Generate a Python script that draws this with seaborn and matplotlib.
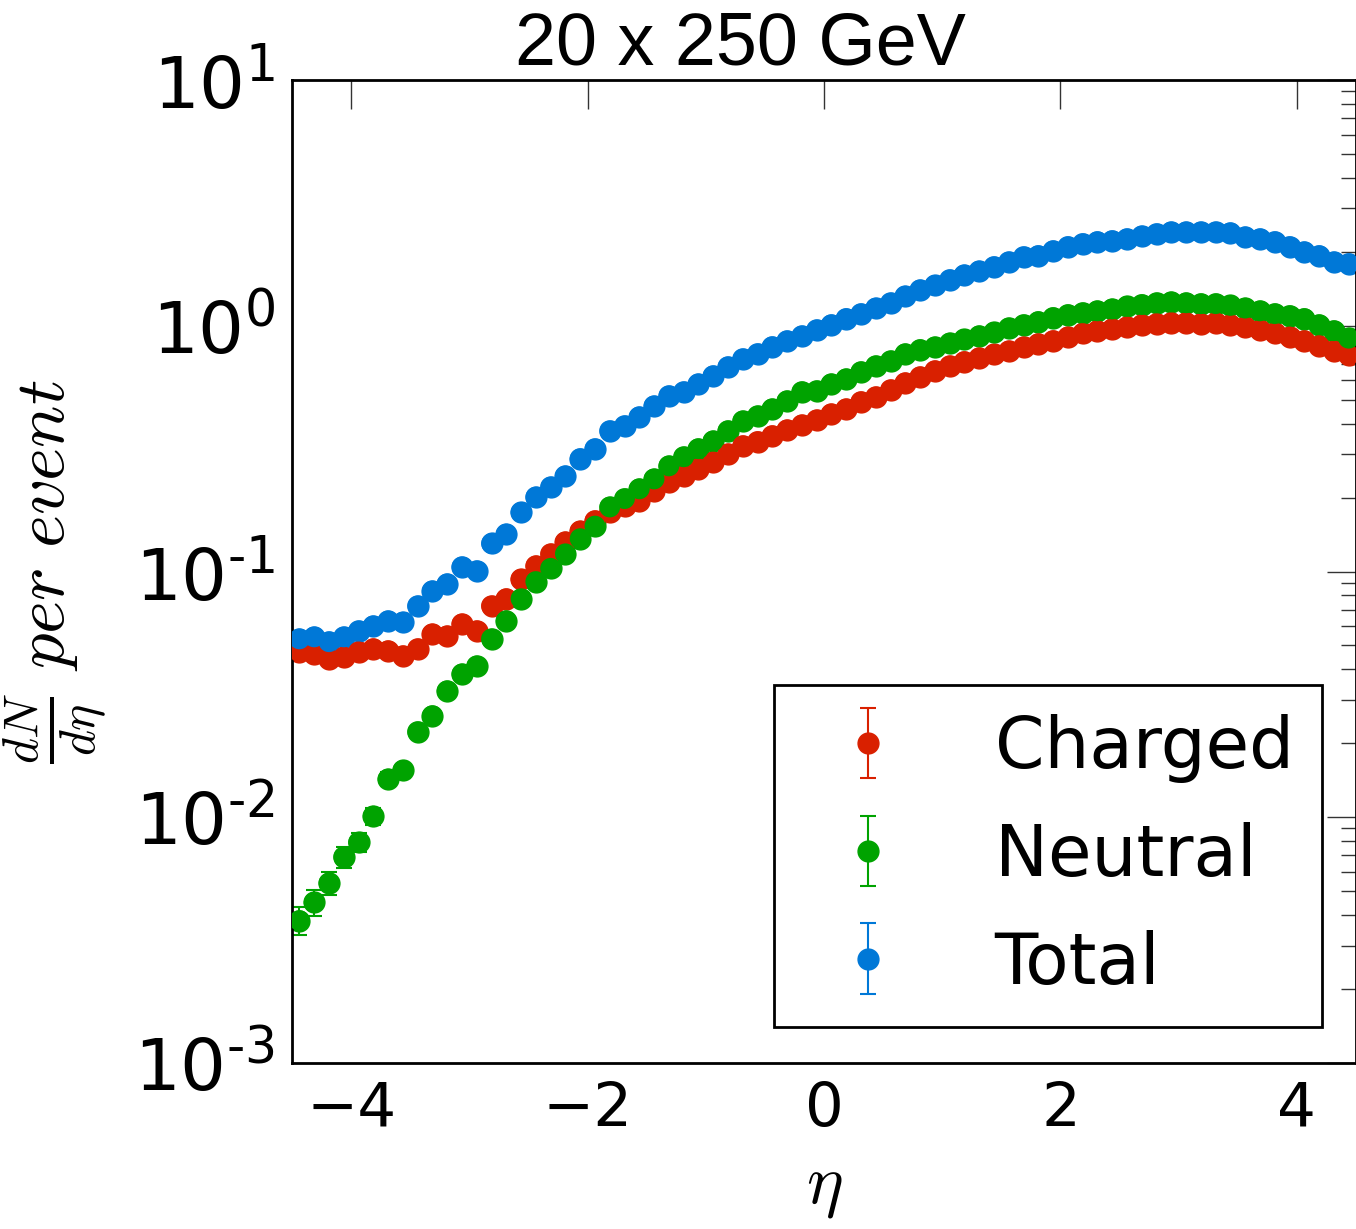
import numpy as np
import pandas as pd
import matplotlib
matplotlib.use('Agg')
import matplotlib.pyplot as plt
from matplotlib.ticker import NullLocator, FuncFormatter
import seaborn as sns

# bin centres in eta (bin width 0.125)
eta = [-4.4375, -4.3125, -4.1875, -4.0625, -3.9375, -3.8125, -3.6875, -3.5625,
       -3.4375, -3.3125, -3.1875, -3.0625, -2.9375, -2.8125, -2.6875, -2.5625,
       -2.4375, -2.3125, -2.1875, -2.0625, -1.9375, -1.8125, -1.6875, -1.5625,
       -1.4375, -1.3125, -1.1875, -1.0625, -0.9375, -0.8125, -0.6875, -0.5625,
       -0.4375, -0.3125, -0.1875, -0.0625, 0.0625, 0.1875, 0.3125, 0.4375,
       0.5625, 0.6875, 0.8125, 0.9375, 1.0625, 1.1875, 1.3125, 1.4375,
       1.5625, 1.6875, 1.8125, 1.9375, 2.0625, 2.1875, 2.3125, 2.4375,
       2.5625, 2.6875, 2.8125, 2.9375, 3.0625, 3.1875, 3.3125, 3.4375,
       3.5625, 3.6875, 3.8125, 3.9375, 4.0625, 4.1875, 4.3125, 4.4375]

charged = [0.0471, 0.0462, 0.0441, 0.0449, 0.0471, 0.0485, 0.0476, 0.0454,
           0.0485, 0.0557, 0.0547, 0.0612, 0.0574, 0.0725, 0.0775, 0.0930,
           0.1055, 0.118, 0.132, 0.146, 0.161, 0.175, 0.185, 0.194,
           0.213, 0.232, 0.245, 0.262, 0.279, 0.301, 0.325, 0.338,
           0.357, 0.377, 0.395, 0.414, 0.438, 0.459, 0.491, 0.514,
           0.549, 0.586, 0.620, 0.656, 0.687, 0.715, 0.740, 0.765,
           0.79, 0.82, 0.845, 0.87, 0.90, 0.93, 0.955, 0.97,
           0.99, 1.01, 1.02, 1.03, 1.03, 1.02, 1.03, 1.01,
           0.99, 0.96, 0.935, 0.90, 0.87, 0.83, 0.79, 0.76]

neutral = [0.0038, 0.0045, 0.0054, 0.0069, 0.0079, 0.0101, 0.0143, 0.0155,
           0.0223, 0.0259, 0.0327, 0.0383, 0.0413, 0.0532, 0.063, 0.0775,
           0.091, 0.103, 0.118, 0.136, 0.153, 0.183, 0.198, 0.217,
           0.238, 0.269, 0.293, 0.316, 0.340, 0.374, 0.410, 0.430,
           0.459, 0.495, 0.539, 0.544, 0.58, 0.608, 0.65, 0.687,
           0.72, 0.769, 0.80, 0.82, 0.85, 0.88, 0.91, 0.94,
           0.98, 1.01, 1.04, 1.08, 1.11, 1.13, 1.15, 1.17,
           1.20, 1.22, 1.24, 1.25, 1.24, 1.23, 1.23, 1.21,
           1.18, 1.15, 1.12, 1.10, 1.07, 1.01, 0.955, 0.89]

total = [0.0532, 0.0542, 0.0518, 0.0542, 0.0574, 0.0601, 0.063, 0.0622,
         0.0725, 0.0834, 0.0891, 0.1045, 0.1007, 0.130, 0.142, 0.174,
         0.201, 0.221, 0.245, 0.288, 0.316, 0.374, 0.392, 0.426,
         0.472, 0.519, 0.539, 0.58, 0.626, 0.681, 0.734, 0.77,
         0.822, 0.869, 0.91, 0.963, 1.01, 1.07, 1.12, 1.18,
         1.24, 1.32, 1.40, 1.46, 1.54, 1.61, 1.67, 1.74,
         1.82, 1.91, 1.93, 2.02, 2.10, 2.16, 2.20, 2.22,
         2.26, 2.32, 2.37, 2.41, 2.41, 2.41, 2.41, 2.39,
         2.30, 2.26, 2.20, 2.10, 2.00, 1.93, 1.82, 1.79]

# statistical (Poisson-like) uncertainty: err = scale * sqrt(dN/deta)
err_scale = 0.008

species = ['Charged', 'Neutral', 'Total']
colors = {'Charged': '#d92000', 'Neutral': '#00a300', 'Total': '#0078d7'}

df = pd.concat([
    pd.DataFrame({'eta': eta, 'dNdeta': vals, 'species': name})
    for name, vals in zip(species, [charged, neutral, total])
], ignore_index=True)
df['err'] = err_scale * np.sqrt(df['dNdeta'])

sns.set_theme(style='white')
plt.rcParams['font.family'] = ['DejaVu Sans']
plt.rcParams['mathtext.fontset'] = 'dejavusans'
for key in ['text.color', 'axes.labelcolor', 'xtick.labelcolor', 'ytick.labelcolor']:
    plt.rcParams[key] = 'black'

fig = plt.figure(figsize=(13.56, 12.29), dpi=100)
ax = fig.add_axes([292 / 1356, 1 - 1063 / 1229, 1064 / 1356, 983 / 1229])

for name in species:
    d = df[df['species'] == name]
    ax.errorbar(d['eta'], d['dNdeta'], yerr=d['err'], fmt='o', color=colors[name],
                mec=colors[name], ms=15, elinewidth=1.5, capsize=6, capthick=1.5,
                label=name)

sns.scatterplot(data=df, x='eta', y='dNdeta', hue='species', palette=colors,
                s=225, linewidth=0, legend=False, ax=ax, zorder=3)

ax.set_yscale('log')
ax.set_xlim(-4.5, 4.5)
ax.set_ylim(1e-3, 10)
ax.set_xticks([-4, -2, 0, 2, 4])
ax.xaxis.set_minor_locator(NullLocator())


def decade_label(v, pos):
    e = int(round(np.log10(v)))
    sign = '\u2010' if e < 0 else ''
    return r'$\mathdefault{10^{%s%d}}$' % (sign, abs(e))


ax.yaxis.set_major_formatter(FuncFormatter(decade_label))

ax.tick_params(which='both', direction='in', top=True, right=True,
               color='#333333', width=1)
ax.tick_params(axis='x', labelsize=44)
ax.tick_params(axis='y', labelsize=52)
ax.tick_params(which='major', length=21, pad=12)
ax.tick_params(which='minor', length=11)
for sp in ax.spines.values():
    sp.set_color('black')
    sp.set_linewidth(2)

ax.set_xlabel(r'$\eta$', fontsize=50, math_fontfamily='cm', labelpad=10)
ax.set_ylabel(r'$\frac{dN}{d\eta}\ per\ event$', fontsize=51,
              math_fontfamily='cm')
ax.yaxis.set_label_coords(-0.172, 0.5)

fig.text(740 / 1356, 1 - 45 / 1229, '20 x 250 GeV', fontsize=53,
         family='Liberation Sans', ha='center', va='center')

leg = ax.legend(loc='lower right', bbox_to_anchor=(0.968, 0.0366), fontsize=51,
                frameon=True, fancybox=False, edgecolor='black', framealpha=1,
                borderpad=0.4, handlelength=1.86, handletextpad=0.86,
                labelspacing=0.55, markerscale=1.0, borderaxespad=0)
leg.get_frame().set_linewidth(2)

fig.savefig('out.png', dpi=100)
